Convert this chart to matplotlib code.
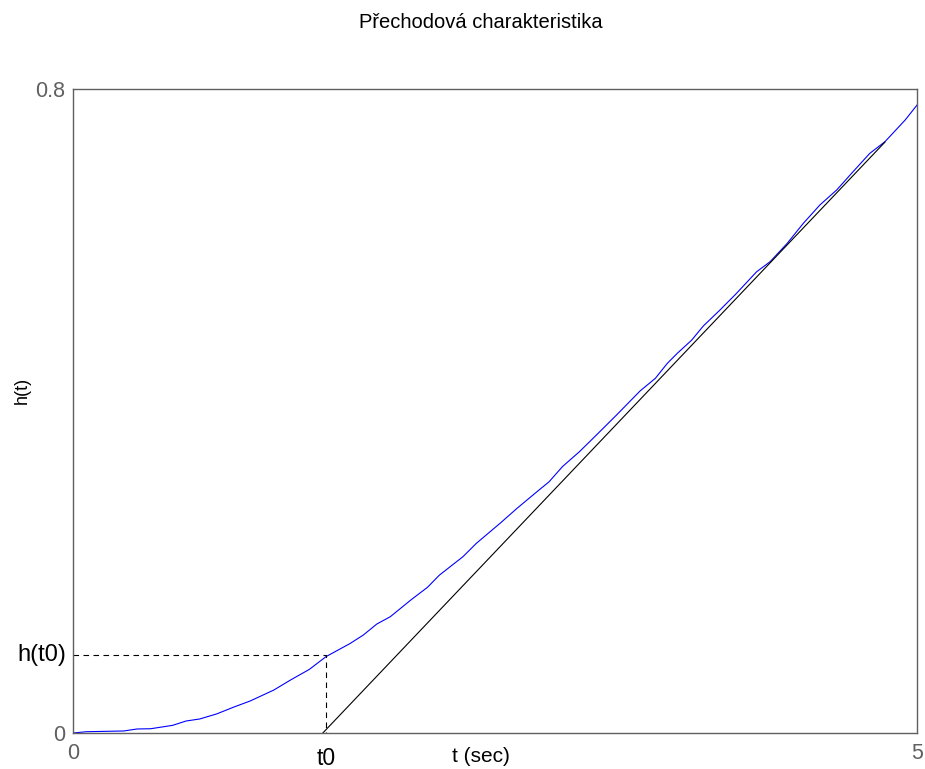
import matplotlib
matplotlib.use("Agg")
import matplotlib.pyplot as plt

plt.rcParams["font.family"] = ["Liberation Sans", "DejaVu Sans"]

# step response samples h(t)
t = [0.0, 0.08, 0.30, 0.38, 0.46, 0.59, 0.67, 0.75, 0.85, 0.95, 1.05, 1.19,
     1.29, 1.40, 1.50, 1.64, 1.72, 1.80, 1.88, 2.00, 2.10, 2.17, 2.31, 2.39,
     2.53, 2.63, 2.75, 2.82, 2.90, 3.00, 3.10, 3.22, 3.36, 3.45, 3.52, 3.58,
     3.665, 3.734, 3.833, 3.93, 4.05, 4.13, 4.23, 4.326, 4.425, 4.524, 4.62,
     4.72, 4.81, 4.93, 5.0]
h = [0.0, 0.0016, 0.0025, 0.005, 0.0053, 0.0095, 0.0149, 0.0174, 0.0236,
     0.032, 0.0398, 0.0534, 0.066, 0.079, 0.095, 0.111, 0.1217, 0.1354,
     0.1445, 0.165, 0.181, 0.196, 0.219, 0.2357, 0.2605, 0.279, 0.300, 0.312,
     0.331, 0.3494, 0.370, 0.395, 0.425, 0.4406, 0.459, 0.4717, 0.488, 0.5056,
     0.5255, 0.546, 0.573, 0.5855, 0.608, 0.633, 0.656, 0.6745, 0.697, 0.720,
     0.7345, 0.7615, 0.780]

# tangent line and the t0 / h(t0) construction
tangent_t = [1.48, 4.81]
tangent_h = [0.0, 0.734]
t0 = 1.5
h_t0 = 0.097

xlim = [0, 5]
ylim = [0, 0.8]

edge = "#606060"

fig = plt.figure(figsize=(9.25, 7.69), dpi=100)
ax = fig.add_axes([73 / 925, 36 / 769, 844 / 925, 644 / 769])

ax.plot(t, h, color="#0000ff", lw=0.8)
ax.plot(tangent_t, tangent_h, color="black", lw=0.8)
ax.plot([0, t0, t0], [h_t0, h_t0, 0], color="black", lw=0.8,
        ls=(0, (5, 4)))

ax.set_xlim(xlim)
ax.set_ylim(ylim)
ax.set_xticks(xlim)
ax.set_yticks(ylim)
ax.set_xticklabels(["0", "5"])
ax.set_yticklabels(["0", "0.8"])
ax.tick_params(direction="in", length=0, colors=edge, labelsize=15.5)
ax.tick_params(axis="x", pad=7)
ax.tick_params(axis="y", pad=5.5)
for s in ax.spines.values():
    s.set_color(edge)
    s.set_linewidth(1.0)

ax.text(t0, -0.017, "t0", ha="center", va="top", fontsize=16.5,
        color="black")
ax.text(-0.04, h_t0, "h(t0)", ha="right", va="center", fontsize=17,
        color="black")

fig.text(481 / 925, 1 - 23 / 769, "Přechodová charakteristika",
         ha="center", va="center", fontsize=14.5)
fig.text(481 / 925, 1 - 756 / 769, "t (sec)", ha="center", va="center",
         fontsize=15)
fig.text(22 / 925, 1 - 390 / 769, "h(t)", ha="center", va="center",
         fontsize=13, rotation=90)

fig.savefig("out.png", dpi=100)
